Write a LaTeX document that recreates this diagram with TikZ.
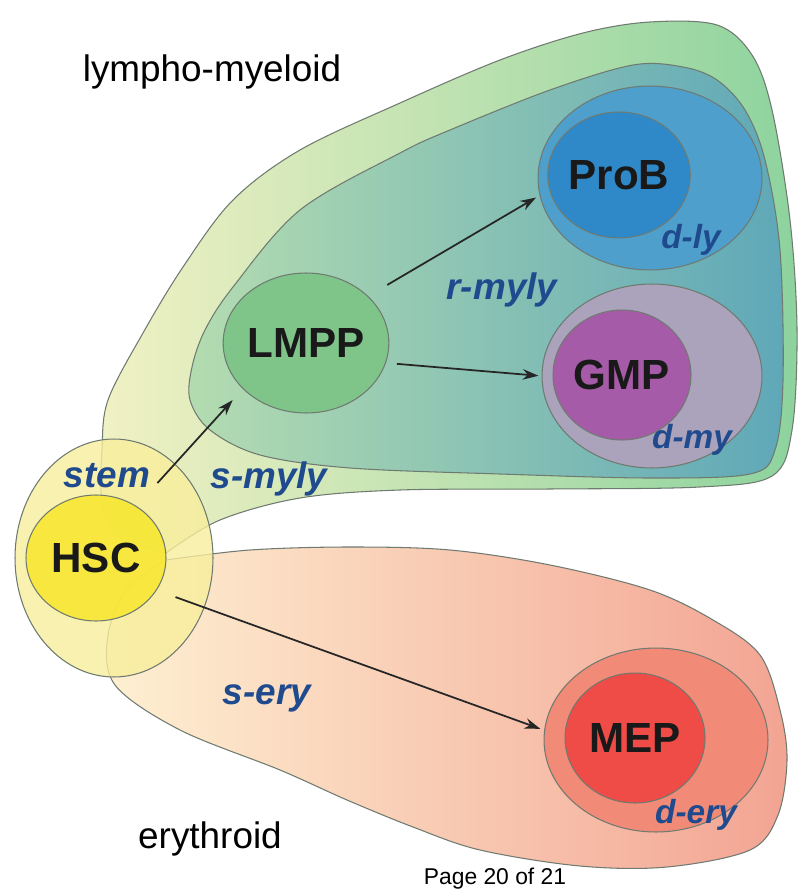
\documentclass[tikz,border=0pt]{standalone}
\usepackage{fontspec}
\setmainfont{Liberation Sans}
\usetikzlibrary{positioning,shapes.geometric,arrows.meta}
\definecolor{edgegrey}{HTML}{6F7A70}
\definecolor{tagblue}{HTML}{1F4B8E}
\definecolor{lymyleft}{HTML}{F1F1C4}
\definecolor{lymymid}{HTML}{C2E2A8}
\definecolor{lymyright}{HTML}{8DD39E}
\definecolor{rmylyleft}{HTML}{B4DCB0}
\definecolor{rmylyright}{HTML}{5FA8B8}
\definecolor{eryleft}{HTML}{FEF0D2}
\definecolor{eryright}{HTML}{F3A493}
\definecolor{probhalo}{HTML}{4F9FCC}
\definecolor{probcore}{HTML}{2F89C9}
\definecolor{gmphalo}{HTML}{ABA2BB}
\definecolor{gmpcore}{HTML}{A65BA9}
\definecolor{lmppcore}{HTML}{7FC58A}
\definecolor{mephalo}{HTML}{F28A78}
\definecolor{mepcore}{HTML}{EF4B47}
\definecolor{hschalo}{HTML}{F8EE9C}
\definecolor{hsccore}{HTML}{F7E733}
\tikzstyle{cell} = [ellipse, draw=edgegrey, line width=0.6pt, inner sep=0pt, text=black!90, font=\bfseries\fontsize{24}{28}\selectfont]
\tikzstyle{halo} = [ellipse, draw=edgegrey, line width=0.6pt, inner sep=0pt]
\tikzstyle{blob} = [draw=edgegrey, line width=0.6pt]
\tikzstyle{tag} = [inner sep=0pt, text=tagblue, font=\bfseries\itshape\fontsize{21}{24}\selectfont]
\tikzstyle{dtag} = [tag, font=\bfseries\itshape\fontsize{19}{22}\selectfont]
\tikzstyle{lineage} = [inner sep=0pt, anchor=base, font=\fontsize{21}{24}\selectfont]
\tikzstyle{flow} = [-{Stealth[length=9pt,width=6pt]}, line width=1pt, black!85]

\begin{document}
\begin{tikzpicture}[x=0.02cm, y=-0.02cm]
    \useasboundingbox (0,0) rectangle (800,891);
    % lineage regions
    \draw[blob, left color=lymyleft, middle color=lymymid, right color=lymyright]
        plot[smooth, tension=0.55] coordinates {(166,553) (118,536) (102,500) (102,450) (108,400) (143,333) (183,267) (233,200) (300,150) (400,103) (500,60) (583,33) (650,22) (717,25) (752,55) (772,110) (790,220) (797,330) (792,430) (772,476) (700,487) (550,489) (400,490) (300,498) (220,520) (166,553)} -- cycle;
    \draw[blob, left color=eryleft, right color=eryright]
        plot[smooth, tension=0.55] coordinates {(166,560) (128,588) (108,635) (115,685) (180,730) (280,770) (347,800) (413,827) (480,850) (580,866) (667,867) (750,850) (778,815) (787,760) (780,710) (760,655) (713,620) (650,590) (550,565) (450,550) (350,547) (250,550) (166,560)} -- cycle;
    \draw[blob, left color=rmylyleft, right color=rmylyright]
        plot[smooth cycle, tension=0.55] coordinates {(190,400) (192,367) (205,330) (233,287) (300,210) (400,153) (450,130) (550,90) (633,65) (683,67) (717,80) (745,110) (765,160) (780,250) (783,380) (775,450) (750,474) (650,478) (500,474) (350,468) (260,455) (210,430)};
    % cells
    \node[halo, fill=probhalo, minimum width=4.48cm, minimum height=3.68cm] (probout) at (650,178) {};
    \node[cell, fill=probcore, minimum width=2.76cm, minimum height=2.52cm] (prob) at (619,175) {ProB};
    \node[halo, fill=gmphalo, minimum width=4.4cm, minimum height=3.68cm] (gmpout) at (652,376) {};
    \node[cell, fill=gmpcore, minimum width=2.76cm, minimum height=2.6cm] (gmp) at (622,375) {GMP};
    \node[cell, fill=lmppcore, minimum width=2.76cm, minimum height=2.8cm] (lmpp) at (306,343) {LMPP};
    \node[halo, fill=mephalo, minimum width=4.48cm, minimum height=3.68cm] (mepout) at (656,740) {};
    \node[cell, fill=mepcore, minimum width=2.8cm, minimum height=2.6cm] (mep) at (635,738) {MEP};
    \node[halo, fill=hschalo, fill opacity=0.8, minimum width=3.96cm, minimum height=4.76cm] (hscout) at (114,558) {};
    \node[cell, fill=hsccore, fill opacity=0.9, text opacity=1, minimum width=2.8cm, minimum height=2.52cm] (hsc) at (96,558) {HSC};
    % labels
    \node[tag] (stem) at (107,476) {stem};
    \node[tag] (smyly) at (269,479) {s-myly};
    \node[tag] (rmyly) at (502,290) {r-myly};
    \node[dtag] (dly) at (691,240) {d-ly};
    \node[dtag] (dmy) at (692,440) {d-my};
    \node[tag] (sery) at (267,698) {s-ery};
    \node[dtag] (dery) at (696,815) {d-ery};
    \node[lineage] (lymy) at (212,82) {lympho-myeloid};
    \node[lineage] (ery) at (210,848) {erythroid};
    \node[lineage, font=\fontsize{13}{15}\selectfont] (page) at (495,884) {Page 20 of 21};
    % transitions
    \draw[flow, shorten <=0.62cm, shorten >=0.3cm] (hsc.52) -- (lmpp.216);
    \draw[flow, shorten <=0.44cm, shorten >=0.08cm] (lmpp.37) -- (probout.189);
    \draw[flow, shorten <=0.22cm, shorten >=0.06cm] (lmpp.-14) -- (gmpout.180);
    \draw[flow, shorten <=0.4cm, shorten >=0.08cm] (hsc.-28) -- (mepout.175);
\end{tikzpicture}
\end{document}
